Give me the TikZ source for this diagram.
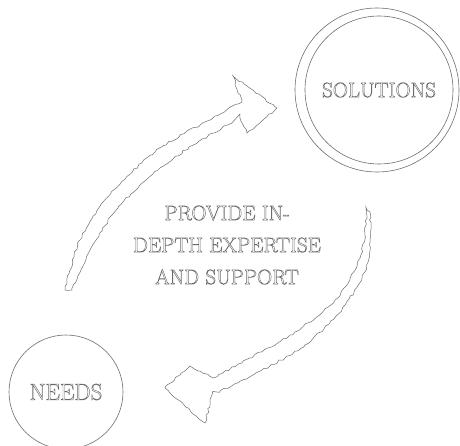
\documentclass[tikz,border=0pt]{standalone}
\usetikzlibrary{decorations.pathmorphing}
\definecolor{SketchLine}{HTML}{6E6E6E}
\definecolor{SketchText}{HTML}{6A6A6A}
% outlined letters (stroke only)
\newcommand{\hollow}[1]{\special{pdf:literal direct 1 Tr 0.45 w}#1\special{pdf:literal direct 0 Tr}}

\begin{document}
\begin{tikzpicture}[x=1pt,y=-1pt,
    bubble/.style={circle,draw=SketchLine,line width=0.6pt,inner sep=0pt,minimum size=#1},
    rough/.style={draw=SketchLine,line width=0.5pt,fill=white,decorate,
      decoration={random steps,segment length=3.5pt,amplitude=1.1pt}},
    captext/.style={text=SketchText,font=\fontsize{21}{24}\selectfont}]
  \useasboundingbox[fill=white] (0,0) rectangle (460,446);

  % solutions: double ring
  \node[bubble=164pt] (solRing) at (377,90) {};
  \node[bubble=148pt,captext] (sol) at (379,90) {\hollow{SOLUTIONS}};

  % needs
  \node[bubble=114pt,captext,font=\fontsize{23}{26}\selectfont] (needs)
    at (66,392) {\hollow{NEEDS}};

  % middle text
  \node[captext,align=center,font=\fontsize{21}{32}\selectfont] (provide)
    at (227,245) {\hollow{PROVIDE IN-}\\\hollow{DEPTH EXPERTISE}\\\hollow{AND SUPPORT}};

  % upper arrow, towards solutions
  \draw[rough] plot[smooth,tension=0.6] coordinates
      {(65,290) (80,240) (110,195) (155,152) (205,122) (242,102)}
    -- (233,76) -- (277,108) -- (247,133) -- (240,118)
    -- plot[smooth,tension=0.6] coordinates
      {(240,118) (205,138) (160,168) (118,208) (90,250) (72,290)} -- cycle;

  % lower arrow, towards needs
  \draw[rough] plot[smooth,tension=0.6] coordinates
      {(367,210) (360,258) (335,300) (295,332) (250,358) (213,378)}
    -- (190,366) -- (165,388) -- (205,423) -- (212,395)
    -- plot[smooth,tension=0.6] coordinates
      {(212,395) (258,372) (305,345) (345,305) (368,262) (370,212)} -- cycle;
\end{tikzpicture}
\end{document}
